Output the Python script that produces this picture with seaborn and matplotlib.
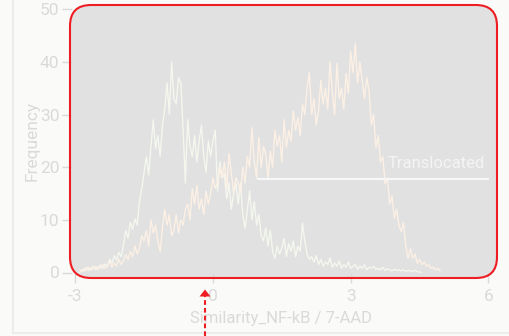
import numpy as np
import matplotlib
matplotlib.use("Agg")
import matplotlib.pyplot as plt
from matplotlib.patches import FancyBboxPatch, Polygon
from matplotlib.lines import Line2D
import seaborn as sns

# Histogram bins (left edge of first bin and bin width, in similarity units)
first_bin = -2.9
bin_width = 0.05

# Counts per bin: untranslocated (green) population
green_counts = [
    0, 0.5, 0.3, 1.0, 0.4, 0.8, 1.2, 0.5, 1.0, 1.4,
    0.8, 1.6, 1.2, 2.5, 1.8, 3.2, 2.4, 3.8, 3.0, 5.2,
    8.0, 6.5, 9.5, 8.2, 10.2, 9.0, 13.5, 16.0, 19.0, 22.0,
    18.5, 24.0, 29.0, 23.5, 26.0, 22.0, 28.0, 31.0, 36.0, 30.0,
    40.0, 33.0, 32.0, 37.0, 36.0, 27.0, 17.0, 29.0, 24.0, 22.0,
    26.0, 21.0, 25.0, 28.0, 22.0, 19.0, 25.0, 22.0, 25.0, 27.0,
    15.5, 21.0, 18.0, 18.7, 14.0, 17.0, 12.0, 15.0, 17.0, 13.0,
    17.0, 11.0, 8.4, 12.0, 15.5, 10.0, 13.5, 9.0, 11.0, 7.0,
    6.0, 8.5, 5.0, 8.0, 4.0, 2.7, 5.0, 3.5, 4.6, 6.5,
    3.0, 5.5, 4.0, 6.0, 3.0, 5.0, 4.0, 9.4, 6.0, 3.5,
    2.5, 3.0, 2.0, 3.2, 1.5, 2.5, 1.2, 2.0, 1.5, 2.8,
    1.0, 1.8, 1.2, 2.2, 0.8, 1.5, 1.0, 2.0, 0.8, 1.2,
    1.5, 0.6, 1.2, 0.8, 1.5, 0.5, 1.0, 0.8, 1.2, 0.6,
    0.8, 0.5, 1.0, 0.4, 0.7, 0.5, 0.3, 0.6, 0.4, 0.5,
    0.3, 0.5, 0.2, 0.4, 0.3, 0.2, 0.4, 0.2, 0.1, 0.0,
]

# Counts per bin: translocated (orange) population
orange_counts = [
    0.5, 0.2, 0.8, 0.4, 1.0, 0.5, 0.8, 1.2, 0.6, 1.0,
    1.5, 0.8, 1.2, 2.0, 1.0, 1.8, 1.2, 2.5, 1.5, 2.2,
    3.4, 2.5, 4.0, 3.0, 5.0, 3.5, 4.6, 7.0, 6.0, 8.0,
    5.0, 10.0, 7.5, 9.0, 6.0, 4.0, 8.5, 12.0, 9.0, 11.0,
    7.0, 8.0, 11.0, 7.5, 10.0, 9.0, 12.0, 13.0, 10.0, 16.0,
    13.0, 16.5, 12.0, 14.0, 11.0, 15.5, 13.0, 15.0, 18.0, 16.0,
    17.0, 20.0, 18.0, 21.0, 16.0, 22.5, 19.0, 15.0, 18.0, 17.0,
    15.0, 20.0, 17.0, 22.0, 20.0, 27.5, 21.0, 18.0, 25.6, 20.0,
    24.0, 22.5, 18.0, 23.0, 20.0, 27.0, 24.0, 26.0, 21.0, 29.0,
    23.7, 27.0, 25.0, 30.7, 27.0, 29.4, 26.0, 32.0, 30.0, 35.0,
    38.0, 30.0, 33.0, 28.0, 30.7, 36.5, 32.0, 35.0, 31.0, 40.0,
    34.5, 30.0, 39.7, 33.0, 35.0, 31.0, 37.8, 34.0, 42.0, 38.0,
    43.5, 36.0, 40.0, 36.5, 33.0, 37.0, 34.5, 28.0, 30.0, 23.7,
    26.0, 21.0, 22.0, 16.8, 18.0, 13.0, 14.5, 10.3, 12.0, 9.0,
    7.8, 9.5, 5.0, 2.7, 4.5, 2.7, 3.5, 1.8, 2.5, 1.5,
    2.0, 1.2, 1.5, 0.8, 1.0, 0.5, 0.8, 0.3,
]

x_ticks = [-3, 0, 3, 6]
y_ticks = [0, 10, 20, 30, 40, 50]
x_label = "Similarity_NF-kB / 7-AAD"
y_label = "Frequency"
gate_label = "Translocated"
gate_start, gate_end, gate_level = 0.96, 6.01, 17.8

green_x = first_bin + bin_width * np.arange(len(green_counts))
orange_x = first_bin + bin_width * np.arange(len(orange_counts))

sns.set_style("white")
plt.rcParams["font.family"] = ["Roboto", "DejaVu Sans"]
plt.rcParams["axes.unicode_minus"] = False

W, H = 509, 336
bg = "#fafaf8"
txt = "#dadada"

fig = plt.figure(figsize=(W / 100, H / 100), dpi=100, facecolor=bg)


def fx(px):
    return px / W


def fy(py):
    return 1 - py / H


ax_l, ax_r, ax_t, ax_b = 72, 490.7, 9.2, 272.5
ax = fig.add_axes([fx(ax_l), fy(ax_b), fx(ax_r) - fx(ax_l), fy(ax_t) - fy(ax_b)])
ax.set_facecolor("none")

# Highlight panel behind the plot area
panel = dict(boxstyle="round,pad=0,rounding_size=21")
fill = FancyBboxPatch((70, H - 278), 427, 273, transform=None,
                      facecolor="#e1e1e1", edgecolor="none", zorder=-1, **panel)
border = FancyBboxPatch((70, H - 278), 427, 273, transform=None,
                        facecolor="none", edgecolor="#ee1d23", lw=1.5, zorder=10, **panel)
fig.patches.extend([fill, border])

sns.lineplot(x=green_x, y=green_counts, ax=ax, color="#f4f7ee", lw=1.0, zorder=3)
sns.lineplot(x=orange_x, y=orange_counts, ax=ax, color="#fcf0e5", lw=1.0, zorder=3)

# Gate
ax.hlines(gate_level, gate_start, gate_end, color="#f7f7f7", lw=1.6, zorder=4, clip_on=False)
ax.text(3.81, gate_level + 2.0, gate_label, color="#f4f4f4", fontsize=12,
        ha="left", va="baseline", zorder=4)

ax.set_xlim(-3.07, 6.05)
ax.set_ylim(0, 50)
ax.set_xticks(x_ticks)
ax.set_yticks(y_ticks)
ax.set_xticklabels([str(v) for v in x_ticks])
for s in ax.spines.values():
    s.set_visible(False)
ax.tick_params(axis="both", colors=txt, labelcolor=txt, labelsize=12.5,
               length=7.5, width=1.0, direction="out", left=True, bottom=True)
ax.tick_params(axis="y", pad=1.5)
ax.tick_params(axis="x", pad=4.5)

ax.set_xlabel(x_label, color=txt, fontsize=12)
ax.set_ylabel(y_label, color=txt, fontsize=12.5)
ax.xaxis.set_label_coords(0.5, (ax_b - 311) / (ax_b - ax_t))
ax.yaxis.set_label_coords((40 - ax_l) / (ax_r - ax_l), 0.5)

# Outer frame lines
fig.add_artist(Line2D([fx(13), fx(13)], [fy(0), fy(333)], color="#ececec", lw=1.5))
fig.add_artist(Line2D([fx(13), fx(509)], [fy(333), fy(333)], color="#ececec", lw=1.5))

# Pointer arrow
ax_x = 205
fig.add_artist(Line2D([fx(ax_x), fx(ax_x)], [fy(336), fy(296)], color="#ee1d23",
                      lw=1.5, dashes=(3.4 / 1.5, 2.2 / 1.5), zorder=11))
fig.add_artist(Polygon([[fx(ax_x - 5.5), fy(296.5)], [fx(ax_x + 5.5), fy(296.5)],
                        [fx(ax_x), fy(289.5)]], closed=True, transform=fig.transFigure,
                       facecolor="#ee1d23", edgecolor="none", zorder=11))

fig.savefig("out.png", dpi=100, facecolor=bg)
